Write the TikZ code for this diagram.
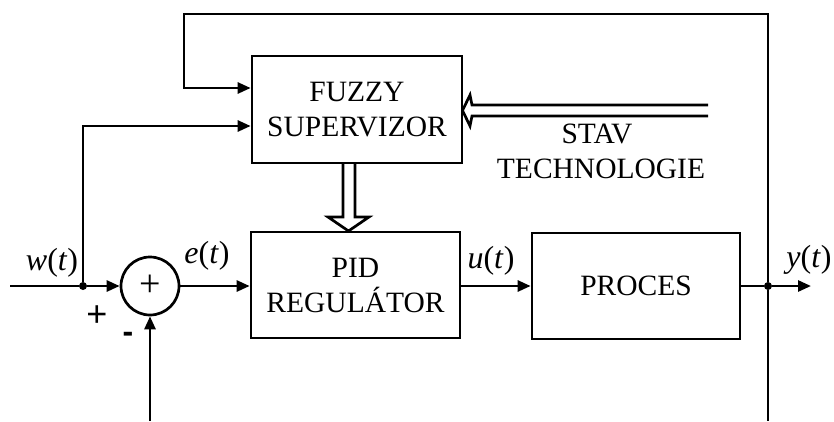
\documentclass[tikz,border=0pt]{standalone}
\usepackage{fontspec}
\setmainfont{Liberation Serif}
\newfontfamily\signfont{Liberation Sans}
\usetikzlibrary{arrows.meta,calc}
\tikzset{
  ln/.style={line width=2.7pt},
  arr/.style={ln,-{Triangle[length=13pt,width=11pt]}},
  blk/.style={draw,ln,minimum width=#1,minimum height=106pt,inner sep=0pt,align=center,font=\fontsize{29.5}{35}\selectfont},
  lbl/.style={anchor=base,inner sep=0pt,font=\fontsize{32}{34}\selectfont},
  txt/.style={anchor=base,inner sep=0pt,font=\fontsize{29.5}{35}\selectfont},
  dot/.style={circle,fill,inner sep=0pt,minimum size=8pt},
  fat/.style={line width=2.7pt,line join=miter}
}
\begin{document}
\begin{tikzpicture}[x=1pt,y=-1pt]
\useasboundingbox (0,0) rectangle (834,421);
% blocks
\node[blk=210pt,minimum height=107pt] (fuzzy) at (357,109.5) {FUZZY\\SUPERVIZOR};
\node[blk=209pt] (pid) at (355.5,285) {PID\\REGULÁTOR};
\node[blk=208pt] (proc) at (636,286) {PROCES};
\node[draw,ln,circle,minimum size=58pt,inner sep=0pt,font=\fontsize{38}{38}\selectfont] (sum) at (150,286) {+};
% coordinates
\coordinate (in) at (10,286);
\node[dot] (j1) at (83,286) {};
\node[dot] (j2) at (768,286) {};
\coordinate (out) at (811,286);
\coordinate (tr) at (768,14);
\coordinate (tl) at (184,14);
\coordinate (bl) at (150,421);
\coordinate (br) at (768,421);
% connectors
\draw[ln] (in) -- (j1);
\draw[arr] (j1) -- (sum.west);
\draw[arr] (j1) |- (fuzzy.west |- 0,126);
\draw[arr] (sum.east) -- (pid.west |- sum.east);
\draw[arr] (pid.east |- 0,286) -- (proc.west);
\draw[ln] (proc.east) -- (j2);
\draw[arr] (j2) -- (out);
\draw[arr] (j2) -- (tr) -- (tl) |- (fuzzy.west |- 0,88);
\draw[ln] (j2) -- (br);
\draw[arr] (bl) -- (sum.south);
% fat down arrow
\draw[fat] (343,163) -- (343,217) -- (328,217) -- (348.5,231) -- (369,217) -- (355,217) -- (355,163);
% STAV double arrow
\draw[fat] (708,105) -- (472,105) -- (470,95) -- (462.5,110.5) -- (470,126) -- (472,116) -- (708,116);
% labels
\node[lbl] (lw) at (52,270) {\textit{w}(\textit{t})};
\node[lbl] (le) at (207,263) {\textit{e}(\textit{t})};
\node[lbl] (lu) at (491,268) {\textit{u}(\textit{t})};
\node[lbl] (ly) at (809,267) {\textit{y}(\textit{t})};
\node[txt] (stav) at (597,143) {STAV};
\node[txt] (tech) at (601,178) {TECHNOLOGIE};
\node[inner sep=0pt,font=\signfont\fontsize{36}{36}\selectfont] (plus) at (97,316) {+};
\node[inner sep=0pt,font=\signfont\bfseries\fontsize{32}{32}\selectfont] (minus) at (128,337) {-};
\end{tikzpicture}
\end{document}
